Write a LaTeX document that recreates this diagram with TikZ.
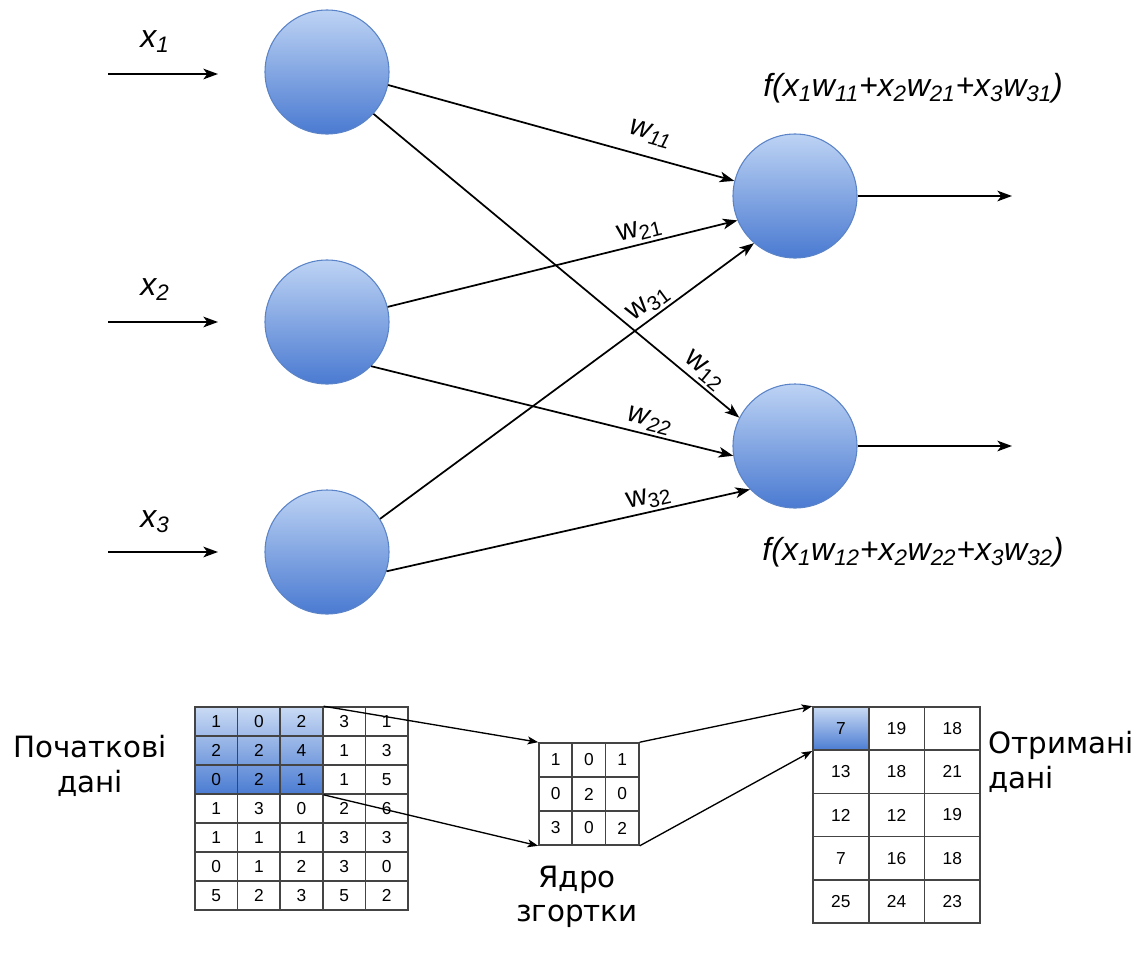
\documentclass[tikz,border=0pt]{standalone}
\usepackage{fontspec}
\setmainfont{Liberation Sans}
\newfontfamily\cyrfont{DejaVu Sans}
\usetikzlibrary{arrows.meta}

\definecolor{nodetop}{HTML}{BDD3F4}
\definecolor{nodebot}{HTML}{4A7AD1}
\definecolor{nodeedge}{HTML}{5A83C8}
\definecolor{celltop}{HTML}{C9DAF4}
\definecolor{cellbot}{HTML}{4B7CD2}
\definecolor{gridline}{HTML}{444444}

\tikzset{
    neuron/.style={circle, minimum size=93pt, draw=nodeedge, line width=0.8pt,
        top color=nodetop, bottom color=nodebot},
    conn/.style={line width=1.3pt, -{Stealth[length=11pt,width=8pt,inset=3pt]}},
    thinconn/.style={line width=1pt, -{Stealth[length=8pt,width=6pt,inset=2pt]}},
    wlab/.style={sloped, above, inner sep=2pt, font=\fontsize{22}{22}\selectfont},
    inlab/.style={font=\fontsize{24}{24}\selectfont\itshape},
    cyrlab/.style={font=\cyrfont\fontsize{22}{26}\selectfont},
    cell/.style={draw=gridline, line width=1.2pt, inner sep=0pt, font=\fontsize{13}{13}\selectfont},
    lcell/.style={cell, minimum width=31.95pt, minimum height=21.75pt},
    kcell/.style={cell, minimum width=25pt, minimum height=25.5pt},
    ocell/.style={cell, minimum width=41.8pt, minimum height=32.4pt},
}

\begin{document}
\begin{tikzpicture}[x=0.75pt, y=-0.75pt]% [ show background grid ]
    \useasboundingbox (0,0) rectangle (1147,965);

    % inputs
    \node[neuron] (in1) at (327,72) {};
    \node[neuron] (in2) at (327,322) {};
    \node[neuron] (in3) at (327,552) {};
    \node[neuron] (out1) at (795,196) {};
    \node[neuron] (out2) at (795,446) {};

    \foreach \i/\y/\ly in {1/74/42, 2/322/290, 3/552/522} {
        \coordinate (s\i) at (108,\y);
        \coordinate (t\i) at (218,\y);
        \draw[conn] (s\i) -- (t\i);
        \node[inlab] (x\i) at (155,\ly) {x\textsubscript{\i}};
    }

    \coordinate (o1) at (1012,196);
    \coordinate (o2) at (1012,446);
    \draw[conn] (out1.east) -- (o1);
    \draw[conn] (out2.east) -- (o2);

    % weights
    \draw[conn] (in1.-12) -- (out1.166) node[wlab, pos=0.74, inner sep=9pt] {\itshape w\textsubscript{11}};
    \draw[conn] (in1.-42) -- (out2.153) node[wlab, pos=0.88] {w\textsubscript{12}};
    \draw[conn] (in2.14) -- (out1.203) node[wlab, pos=0.73] {w\textsubscript{21}};
    \draw[conn] (in2.-45) -- (out2.189) node[wlab, pos=0.76] {\itshape w\textsubscript{22}};
    \draw[conn] (in3.32) -- (out1.229) node[wlab, pos=0.74] {w\textsubscript{31}};
    \draw[conn] (in3.-18) -- (out2.224) node[wlab, pos=0.73] {w\textsubscript{32}};

    \node[inlab] (f1) at (913,88) {f(x\textsubscript{1}w\textsubscript{11}+x\textsubscript{2}w\textsubscript{21}+x\textsubscript{3}w\textsubscript{31})};
    \node[inlab] (f2) at (913,552) {f(x\textsubscript{1}w\textsubscript{12}+x\textsubscript{2}w\textsubscript{22}+x\textsubscript{3}w\textsubscript{32})};

    % convolution
    \shade[top color=celltop, bottom color=cellbot] (195,707) rectangle (322.8,794);
    \shade[top color=celltop, bottom color=cellbot] (813,707) rectangle (868.7,750.2);

    \foreach \row [count=\r] in {{1,0,2,3,1},{2,2,4,1,3},{0,2,1,1,5},{1,3,0,2,6},{1,1,1,3,3},{0,1,2,3,0},{5,2,3,5,2}}
        \foreach \v [count=\c] in \row
            \node[lcell] (L-\r-\c) at ({195+42.6*(\c-0.5)},{707+29*(\r-0.5)}) {\v};

    \foreach \row [count=\r] in {{1,0,1},{0,2,0},{3,0,2}}
        \foreach \v [count=\c] in \row
            \node[kcell] (K-\r-\c) at ({539+33.3*(\c-0.5)},{743+34*(\r-0.5)}) {\v};

    \foreach \row [count=\r] in {{7,19,18},{13,18,21},{12,12,19},{7,16,18},{25,24,23}}
        \foreach \v [count=\c] in \row
            \node[ocell] (O-\r-\c) at ({813+55.7*(\c-0.5)},{707+43.2*(\r-0.5)}) {\v};

    \draw[thinconn] (L-1-3.north east) -- (K-1-1.north west);
    \draw[thinconn] (L-3-3.south east) -- (K-3-1.south west);
    \draw[thinconn] (K-1-3.north east) -- (O-1-1.north west);
    \draw[thinconn] (K-3-3.south east) -- (O-1-1.south west);

    \node[cyrlab, align=center] (src) at (90,766) {Початкові\\дані};
    \node[cyrlab, align=center] (ker) at (577,897) {Ядро\\згортки};
    \node[cyrlab, align=left] (res) at (1061,762) {Отримані\\дані};
\end{tikzpicture}
\end{document}
